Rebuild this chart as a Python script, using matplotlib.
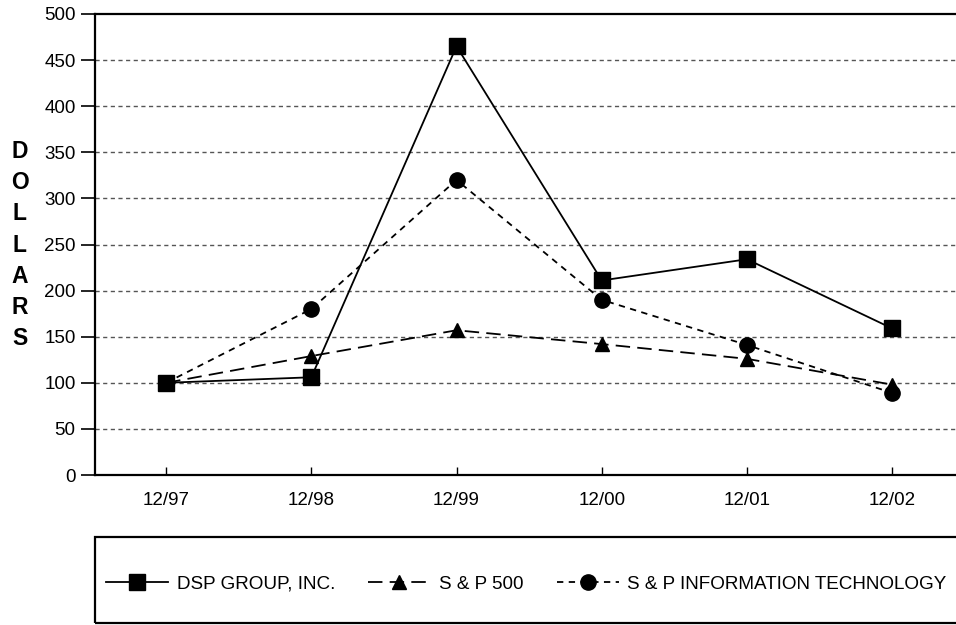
import matplotlib

matplotlib.use("Agg")

import matplotlib.pyplot as plt
from matplotlib.patches import Rectangle

plt.rcParams["font.family"] = ["Liberation Sans", "DejaVu Sans"]

# ---------------------------------------------------------------------------
# Data
# ---------------------------------------------------------------------------
periods = ["12/97", "12/98", "12/99", "12/00", "12/01", "12/02"]
dsp_group = [100, 106, 465, 211, 234, 159]
sp500 = [100, 129, 157, 142, 126, 98]
sp_info_tech = [100, 180, 320, 190, 141, 89]

y_ticks = [0, 50, 100, 150, 200, 250, 300, 350, 400, 450, 500]

# ---------------------------------------------------------------------------
# Plot
# ---------------------------------------------------------------------------
W, H = 956, 625
fig = plt.figure(figsize=(W / 100, H / 100), dpi=100)
ax = fig.add_axes([95 / W, (H - 475) / H, 1 - 95 / W, (475 - 14) / H])

x = list(range(len(periods)))
lw = 1.3
h_dsp, = ax.plot(x, dsp_group, color="black", lw=lw, ls="-",
                 marker="s", ms=11, label="DSP GROUP, INC.", zorder=4)
h_sp, = ax.plot(x, sp500, color="black", lw=lw, ls=(0, (8, 4)),
                marker="^", ms=10, label="S & P 500", zorder=3)
h_it, = ax.plot(x, sp_info_tech, color="black", lw=lw, ls=(0, (3.5, 3)),
                marker="o", ms=11, label="S & P INFORMATION TECHNOLOGY", zorder=3)

ax.set_ylim(0, 500)
ax.set_xlim(-0.49, 5.44)
ax.set_yticks(y_ticks)
ax.set_xticks(x)
ax.set_xticklabels(periods)

for v in y_ticks[1:-1]:
    ax.axhline(v, color="#555555", lw=1.0, ls=(0, (3, 2.5)), zorder=1)

ax.spines["right"].set_visible(False)
for s in ("left", "top", "bottom"):
    ax.spines[s].set_linewidth(1.6)

ax.tick_params(axis="y", direction="out", length=10, width=1.2, pad=4,
               labelsize=13.5)
ax.tick_params(axis="x", direction="in", length=6, width=1.0, pad=12,
               labelsize=13.5)

# stacked vertical "DOLLARS" label
fig.text(20 / W, (H - 245) / H, "\n".join("DOLLARS"),
         ha="center", va="center", fontsize=16.5, fontweight="bold",
         linespacing=1.46)

# legend box below the chart
fig.patches.append(Rectangle((95 / W, (H - 623) / H), 1, (623 - 537) / H,
                             transform=fig.transFigure, fill=False,
                             edgecolor="black", lw=1.6))
fig.legend(handles=[h_dsp, h_sp, h_it], loc="center left",
           bbox_to_anchor=(106 / W, (H - 584) / H), ncol=3, frameon=False,
           fontsize=13.6, handlelength=3.3, handletextpad=0.45,
           columnspacing=1.75, borderpad=0, borderaxespad=0, markerscale=1.0)

fig.savefig("out.png", dpi=100)
